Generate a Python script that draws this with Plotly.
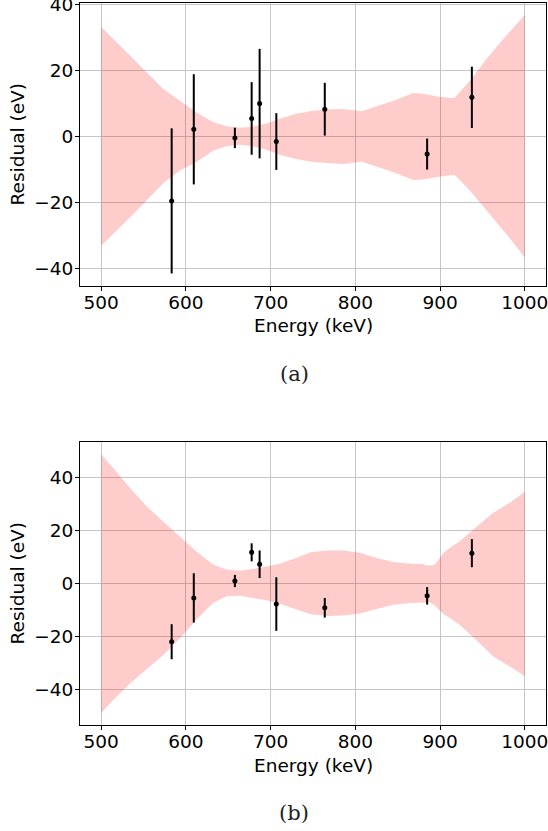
import plotly.graph_objects as go

W, H = 548, 831

# ---- data: panel (a) ----
energies = [583.2, 609.3, 657.8, 677.6, 687.0, 706.7, 763.9, 884.7, 937.5]
resid_a = [-19.6, 2.1, -0.5, 5.4, 9.9, -1.6, 8.2, -5.4, 11.8]
err_a = [22.0, 16.7, 3.1, 11.0, 16.6, 8.6, 8.0, 4.7, 9.3]

band_a_E = [500, 514, 534, 553.5, 573, 593, 612, 632, 648, 663.5, 679, 695, 710.6, 730,
            750, 766, 786, 807.5, 825, 845, 868.4, 880, 900, 917, 935.4, 955, 978.4, 1000]
band_a_hi = [33.1, 29.6, 24.5, 19.4, 14.4, 10.8, 7.3, 4.3, 3.0, 2.6, 2.9, 3.9, 5.3, 6.8,
             7.7, 8.1, 8.3, 7.6, 9.0, 10.8, 13.1, 12.9, 11.9, 11.6, 16.9, 23.5, 30.6, 36.8]
band_a_lo = [-33.2, -29.7, -24.6, -19.5, -14.3, -10.4, -7.9, -4.4, -3.0, -2.6, -3.0, -4.1, -5.6, -6.9,
             -7.8, -8.1, -8.4, -7.7, -9.1, -10.9, -13.3, -13.1, -12.2, -11.7, -16.5, -22.6, -29.7, -36.8]

# ---- data: panel (b) ----
resid_b = [-21.9, -5.4, 1.0, 11.8, 7.3, -7.7, -9.1, -4.6, 11.5]
err_b = [6.6, 9.3, 2.3, 3.4, 5.2, 10.1, 3.7, 3.3, 5.3]

band_b_E = [500, 514, 534, 553.5, 573, 593, 612, 632, 648, 663.5, 679, 695, 710.6, 730,
            747, 758, 766, 786, 805.5, 825, 845, 864.4, 880, 884, 888, 894, 904, 911.6,
            923.4, 943, 962.7, 982.3, 1000]
band_b_hi = [48.7, 43.7, 36.1, 29.2, 23.5, 17.8, 12.2, 7.2, 5.3, 4.9, 5.5, 6.5, 7.5, 9.7,
             11.8, 12.2, 12.5, 12.5, 11.6, 9.7, 8.2, 7.5, 7.4, 6.8, 6.8, 7.2, 11.6, 13.5,
             16.0, 21.4, 26.7, 30.5, 34.6]
band_b_lo = [-48.9, -44.0, -37.7, -32.4, -27.0, -20.6, -13.7, -7.3, -4.8, -4.6, -5.4, -6.3, -7.6, -9.6,
             -11.5, -11.8, -12.2, -12.0, -11.3, -9.6, -8.0, -7.3, -7.2, -7.1, -7.1, -8.3, -11.5, -13.0,
             -15.6, -21.3, -27.5, -31.2, -34.9]

x_ticks = [500, 600, 700, 800, 900, 1000]
y_ticks = [-40, -20, 0, 20, 40]
x_title = "Energy (keV)"
y_title = "Residual (eV)"
panel_labels = ["(a)", "(b)"]

BAND = "rgba(255,0,0,0.2)"
GRID = "#c6c6c6"
TICKFONT = dict(family="DejaVu Sans", size=18.5, color="black")

fig = go.Figure()


def add_panel(xa, ya, bE, bhi, blo, res, err):
    fig.add_trace(go.Scatter(x=bE, y=blo, mode="lines", line=dict(width=0, color=BAND),
                             showlegend=False, hoverinfo="skip", xaxis=xa, yaxis=ya))
    fig.add_trace(go.Scatter(x=bE, y=bhi, mode="lines", line=dict(width=0, color=BAND),
                             fill="tonexty", fillcolor=BAND,
                             showlegend=False, hoverinfo="skip", xaxis=xa, yaxis=ya))
    fig.add_trace(go.Scatter(x=energies, y=res, mode="markers",
                             marker=dict(color="black", size=5),
                             error_y=dict(type="data", array=err, color="black",
                                          thickness=2, width=0),
                             showlegend=False, xaxis=xa, yaxis=ya))


add_panel("x", "y", band_a_E, band_a_hi, band_a_lo, resid_a, err_a)
add_panel("x2", "y2", band_b_E, band_b_hi, band_b_lo, resid_b, err_b)

common = dict(showgrid=True, gridcolor=GRID, gridwidth=1, zeroline=False,
              showline=True, linecolor="black", linewidth=1, mirror=True,
              ticks="outside", ticklen=4, tickcolor="black", tickwidth=1,
              tickfont=TICKFONT, ticklabeloverflow="allow", automargin=False)
xcommon = dict(range=[475, 1025], domain=[80 / W, 546 / W], tickvals=x_ticks,
               ticklabelstandoff=-4, **common)
ycommon = dict(tickvals=y_ticks, ticklabelstandoff=-2, **common)

top_a, bot_a = 3, 286
top_b, bot_b = 442, 725

fig.update_layout(
    width=W, height=H,
    margin=dict(l=0, r=0, t=0, b=0, autoexpand=False),
    paper_bgcolor="white", plot_bgcolor="white",
    showlegend=False, hovermode=False,
    xaxis=dict(anchor="y", **xcommon),
    yaxis=dict(anchor="x", range=[-45.4, 40.4],
               domain=[1 - bot_a / H, 1 - top_a / H], **ycommon),
    xaxis2=dict(anchor="y2", **xcommon),
    yaxis2=dict(anchor="x2", range=[-53.3, 53.4],
                domain=[1 - bot_b / H, 1 - top_b / H], **ycommon),
)

ann = []
for (t, b, lab, ly) in [(top_a, bot_a, panel_labels[0], 374), (top_b, bot_b, panel_labels[1], 813)]:
    ann.append(dict(text=x_title, x=313.5 / W, y=1 - (b + 40) / H, xref="paper", yref="paper",
                    xanchor="center", yanchor="middle", showarrow=False,
                    font=dict(family="DejaVu Sans", size=18.5, color="black")))
    ann.append(dict(text=y_title, x=17 / W, y=1 - ((t + b) / 2) / H, xref="paper", yref="paper",
                    xanchor="center", yanchor="middle", showarrow=False, textangle=-90,
                    font=dict(family="DejaVu Sans", size=18.5, color="black")))
    ann.append(dict(text=lab, x=294 / W, y=1 - ly / H, xref="paper", yref="paper",
                    xanchor="center", yanchor="middle", showarrow=False,
                    font=dict(family="DejaVu Serif", size=21, color="#222222")))
fig.update_layout(annotations=ann)

fig.write_html("out.html", config={"displayModeBar": False})
